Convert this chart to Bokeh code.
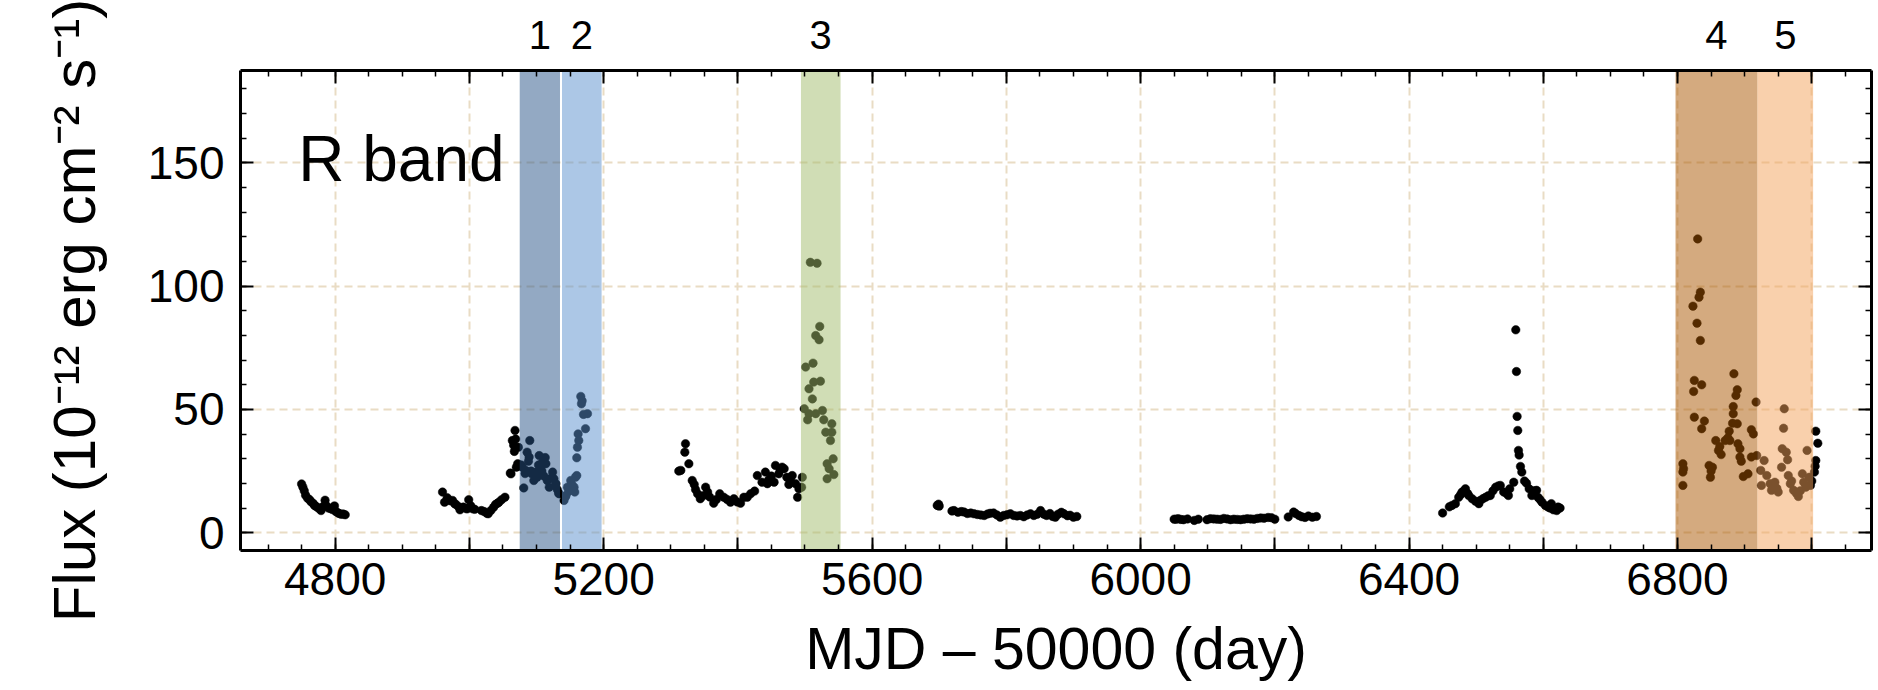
from bokeh.plotting import figure
from bokeh.models import FixedTicker, LinearAxis, Label, Range1d, Title
from bokeh.embed import file_html
from bokeh.resources import INLINE

# ---------------- data (MJD - 50000, flux in 1e-12 erg cm^-2 s^-1) ----------------
mjd_s1 = [4750, 4752, 4754, 4756, 4759, 4762, 4764, 4767, 4769, 4771, 4774, 4777, 4779,
          4782, 4785, 4787, 4790, 4793, 4796, 4799, 4801, 4804, 4806, 4809, 4812, 4815]
flux_s1 = [19.8, 18.5, 17.0, 15.2, 14.0, 13.4, 12.6, 12.0, 11.2, 10.8, 10.2, 9.6, 9.0,
           10.6, 13.2, 11.0, 10.0, 9.8, 9.4, 10.9, 8.6, 8.1, 7.8, 7.5, 7.6, 7.3]

mjd_s2 = [4960, 4963, 4967, 4971, 4975, 4978, 4980, 4984, 4986, 4991, 4995, 4997, 4999,
          5002, 5005, 5008, 5018, 5022, 5026, 5028, 5032, 5036, 5039, 5042, 5044, 5048,
          5053, 5061, 5062, 5064, 5066, 5067, 5068, 5069, 5070, 5072, 5073,
          5077, 5079, 5081, 5083, 5084, 5086, 5088, 5089, 5090, 5092, 5093, 5096, 5098,
          5101, 5103, 5104, 5106, 5108, 5109, 5111, 5113, 5114, 5116, 5119, 5121, 5124,
          5126, 5128, 5129, 5131, 5133, 5134,
          5141, 5143, 5144, 5146, 5148, 5151, 5153, 5156, 5157, 5158, 5160, 5160, 5161,
          5162, 5163, 5166, 5167, 5168, 5170, 5173, 5176]
flux_s2 = [16.5, 12.4, 14.2, 13.0, 13.1, 11.8, 11.5, 10.5, 9.3, 10.4, 9.8, 9.7, 13.4,
           11.0, 9.7, 9.5, 9.0, 8.6, 7.9, 7.7, 9.0, 10.3, 11.5, 12.0, 12.4, 13.4,
           14.4, 24.2, 23.9, 37.4, 35.5, 33.0, 41.5, 38.0, 26.6, 28.0, 34.7,
           27.5, 26.6, 18.2, 24.0, 25.3, 32.7, 29.0, 30.7, 37.4, 25.0, 23.9, 21.2, 24.5,
           22.5, 27.5, 31.3, 26.0, 25.0, 28.6, 23.0, 30.5, 28.0, 21.2, 18.5, 22.0, 24.6,
           21.9, 19.0, 19.9, 17.5, 16.0, 15.8,
           13.1, 14.5, 15.1, 18.5, 16.8, 21.2, 19.5, 18.5, 16.5, 22.5, 23.2, 30.4, 34.7,
           40.1, 37.4, 55.3, 52.3, 53.5, 48.0, 42.2, 48.3]

mjd_s3 = [5312, 5315, 5321, 5322, 5327, 5332, 5335, 5337, 5340, 5344, 5348, 5352, 5355,
          5358, 5364, 5368, 5373, 5379, 5384, 5389, 5394, 5399, 5404, 5409, 5414, 5419,
          5425, 5429, 5436, 5441, 5444, 5446, 5450, 5454, 5456, 5461, 5463, 5466, 5469,
          5473, 5476, 5478, 5481, 5486, 5489, 5491,
          5495, 5496, 5499, 5501, 5504, 5506, 5506, 5508, 5511, 5512, 5513, 5516, 5516,
          5518, 5521, 5522, 5523, 5526, 5528, 5531, 5533, 5533, 5536, 5538, 5540, 5540,
          5542, 5543]
flux_s3 = [25.0, 25.3, 32.7, 36.1, 28.0, 21.2, 19.6, 17.5, 15.8, 13.8, 15.0, 18.5, 16.5,
           14.5, 12.0, 13.5, 15.8, 14.4, 13.5, 12.4, 13.8, 12.5, 12.0, 14.4, 14.4, 15.8,
           16.9, 23.2, 20.5, 24.6, 19.9, 21.5, 23.0, 20.5, 27.3, 23.9, 25.5, 26.6, 26.0,
           22.5, 19.6, 21.5, 23.2, 19.9, 14.4, 17.8,
           18.5, 22.5, 50.3, 67.2, 45.8, 58.4, 48.3, 109.7, 54.3, 68.8, 61.1, 80.0, 48.3,
           109.3, 78.3, 83.7, 61.5, 49.6, 45.8, 40.8, 28.0, 21.9, 26.0, 37.4, 44.2, 40.8,
           30.0, 23.6]

mjd_s4 = [5697, 5699, 5700, 5719, 5722, 5728, 5733, 5737, 5742, 5747, 5752, 5757, 5762,
          5767, 5772, 5776, 5781, 5786, 5791, 5796, 5801, 5806, 5811, 5816, 5821, 5826,
          5831, 5836, 5841, 5846, 5851, 5856, 5860, 5865, 5869, 5873, 5877, 5882, 5886,
          5891, 5895, 5900, 5905]
flux_s4 = [11.1, 11.6, 10.8, 8.8, 9.0, 8.3, 8.6, 8.4, 7.8, 8.0, 7.7, 7.4, 7.2,
           7.0, 7.6, 7.9, 8.0, 7.2, 6.3, 7.0, 7.3, 7.7, 7.0, 6.8, 7.0, 6.5,
           7.2, 7.7, 7.0, 7.5, 9.0, 7.5, 7.0, 7.8, 6.6, 6.3, 7.5, 8.3, 7.7,
           6.9, 7.1, 6.3, 6.6]

mjd_s5 = [6050, 6053, 6056, 6060, 6064, 6070, 6080, 6086, 6099, 6104, 6109, 6114, 6119,
          6124, 6129, 6134, 6139, 6144, 6149, 6154, 6159, 6164, 6169, 6174, 6179, 6184,
          6190, 6195, 6200, 6220, 6228, 6231, 6236, 6240, 6245, 6250, 6256, 6262]
flux_s5 = [5.5, 5.5, 5.7, 5.4, 5.3, 5.6, 5.0, 5.5, 5.3, 5.7, 5.6, 5.5, 5.4,
           5.8, 5.6, 5.3, 5.5, 5.4, 5.3, 5.5, 5.7, 5.6, 5.5, 5.8, 6.0, 5.9,
           6.2, 6.1, 5.5, 6.4, 8.4, 7.8, 7.0, 6.5, 6.2, 6.8, 6.3, 6.6]

mjd_s6 = [6450, 6460, 6464, 6469, 6474, 6477, 6479, 6482, 6484, 6487, 6489, 6494, 6499,
          6504, 6506, 6510, 6514, 6518, 6521, 6525, 6529, 6533, 6536, 6541, 6545, 6548,
          6550, 6556, 6559, 6560, 6561, 6562, 6563, 6564, 6566, 6568, 6572, 6575, 6579,
          6583, 6586, 6590, 6592, 6595, 6598, 6603, 6607, 6610, 6612, 6615, 6618, 6620,
          6622, 6625]
flux_s6 = [8.0, 10.5, 11.1, 11.8, 14.4, 15.5, 16.5, 17.0, 17.8, 16.0, 15.1, 13.8, 12.8,
           11.8, 13.1, 13.8, 14.4, 15.0, 15.1, 17.0, 18.5, 19.0, 19.2, 16.5, 16.0, 15.1,
           17.8, 20.5, 82.3, 65.4, 47.2, 41.5, 33.4, 31.5, 26.9, 24.6, 21.0, 20.1, 17.8,
           15.1, 17.0, 17.2, 14.4, 13.5, 12.4, 11.1, 10.4, 10.0, 11.8, 9.3, 9.8, 9.0,
           10.4, 10.0]

mjd_s7 = [6808, 6808, 6808, 6809, 6823, 6824, 6825, 6825, 6829, 6830, 6832, 6834, 6834,
          6836, 6836, 6840, 6847, 6849, 6850, 6852, 6857, 6861, 6863, 6865, 6871, 6875,
          6877, 6878, 6882, 6883, 6883, 6884, 6887, 6889, 6889, 6890, 6893, 6893, 6895,
          6898, 6905, 6910, 6913, 6910, 6917, 6918,
          6924, 6925, 6929, 6933, 6938, 6940, 6943, 6945, 6948, 6950, 6955, 6956, 6958,
          6959, 6962, 6964, 6965, 6968, 6970, 6973, 6977, 6980, 6983, 6986, 6988, 6991,
          6993, 6996, 6998, 7000,
          7004, 7005, 7006, 7006, 7009]
flux_s7 = [28.0, 24.6, 19.2, 26.0, 91.9, 57.3, 61.8, 46.9, 85.0, 119.2, 95.5, 97.6, 78.0,
           60.0, 42.2, 45.3, 27.3, 22.5, 25.0, 26.6, 37.4, 33.4, 35.0, 31.7, 37.4, 38.5,
           41.2, 37.4, 44.4, 48.3, 51.2, 64.5, 55.7, 58.0, 44.2, 36.1, 34.1, 30.7, 29.0,
           22.8, 23.9, 41.8, 40.1, 30.7, 53.0, 31.3,
           25.3, 19.2, 29.3, 23.2, 19.9, 17.2, 18.5, 20.5, 18.0, 16.5, 26.6, 34.1, 42.4,
           50.3, 32.7, 29.6, 23.2, 19.9, 21.0, 17.2, 16.0, 14.7, 17.0, 23.9, 20.5, 18.5,
           33.4, 22.5, 19.2, 21.0,
           24.6, 27.0, 29.3, 41.2, 36.3]

# highlighted intervals
region_start = [5075, 5138, 5494, 6797, 6919]
region_end = [5135, 5197, 5553, 6919, 7002]
region_labels = ["1", "2", "3", "4", "5"]
region_colors = ["#285488", "#5a90ce", "#a2bc6c", "#aa5500", "#f4a25a"]

x_major = list(range(4600, 7201, 200))
x_minor = list(range(4600, 7201, 50))
x_labelled = [4800, 5200, 5600, 6000, 6400, 6800]
y_major = [0, 50, 100, 150]
y_minor = list(range(-10, 191, 10))

mjd = mjd_s1 + mjd_s2 + mjd_s3 + mjd_s4 + mjd_s5 + mjd_s6 + mjd_s7
flux = flux_s1 + flux_s2 + flux_s3 + flux_s4 + flux_s5 + flux_s6 + flux_s7

FONT = "Liberation Sans"

x0, x1 = 4659, 7089
y0, y1 = -7.2, 187.5

p = figure(width=1876, height=688, x_range=Range1d(x0, x1), y_range=Range1d(y0, y1),
           output_backend="svg", toolbar_location=None,
           min_border_left=240, min_border_right=5, min_border_top=70, min_border_bottom=138)
p.outline_line_color = None
p.background_fill_color = "white"

xt = FixedTicker(ticks=x_major, minor_ticks=x_minor)
yt = FixedTicker(ticks=y_major, minor_ticks=y_minor)

def style_axis(ax):
    ax.axis_line_width = 3
    ax.axis_line_color = "black"
    ax.major_tick_in = 13
    ax.major_tick_out = 0
    ax.minor_tick_in = 6
    ax.minor_tick_out = 0
    ax.major_tick_line_width = 2
    ax.minor_tick_line_width = 1.5
    ax.major_tick_line_color = "black"
    ax.minor_tick_line_color = "black"
    ax.major_label_text_font = FONT
    ax.major_label_text_color = "black"
    ax.axis_label_text_font = FONT
    ax.axis_label_text_color = "black"
    ax.axis_label_text_font_style = "normal"

xa = p.xaxis[0]
xa.ticker = xt
style_axis(xa)
xa.major_label_overrides = {t: (str(t) if t in x_labelled else "") for t in x_major}
xa.major_label_text_font_size = "46px"
xa.major_label_standoff = 12
xa.axis_label = "MJD \u2013 50000 (day)"
xa.axis_label_text_font_size = "59px"
xa.axis_label_standoff = 18

ya = p.yaxis[0]
ya.ticker = yt
style_axis(ya)
ya.major_label_text_font_size = "46px"
ya.major_label_standoff = 16

# y-axis title, placed as a left-side title so it can sit slightly below centre
p.add_layout(Title(text="Flux (10\u207b\u00b9\u00b2 erg cm\u207b\u00b2 s\u207b\u00b9)",
                   align="center", offset=-35, standoff=74, text_font=FONT,
                   text_font_size="60px", text_font_style="normal",
                   text_color="black"), "left")

top = LinearAxis(ticker=xt, major_label_overrides={t: "" for t in x_major},
                 major_label_standoff=0)
style_axis(top)
p.add_layout(top, "above")

# interval numbers shown above the frame, centred on each interval
centers = [(s + e) / 2 for s, e in zip(region_start, region_end)]
lab_axis = LinearAxis(ticker=FixedTicker(ticks=centers, minor_ticks=[]),
                      major_label_overrides={c: l for c, l in zip(centers, region_labels)},
                      axis_line_color=None, major_tick_line_color=None,
                      minor_tick_line_color=None, major_tick_in=0, major_tick_out=0,
                      major_label_standoff=22, major_label_text_font=FONT,
                      major_label_text_font_size="40px", major_label_text_color="black")
p.add_layout(lab_axis, "above")

right = LinearAxis(ticker=yt, major_label_overrides={t: "" for t in y_major},
                   major_label_standoff=0)
style_axis(right)
p.add_layout(right, "right")

p.xgrid.ticker = xt
p.ygrid.ticker = yt
for g in (p.xgrid[0], p.ygrid[0]):
    g.grid_line_color = "#e9dcc4"
    g.grid_line_width = 2
    g.grid_line_dash = "8 5"

p.scatter(mjd, flux, size=8.5, fill_color="black", line_color="black", line_width=0.5)

p.quad(left=region_start, right=region_end, bottom=y0 - 10, top=y1 + 10,
       fill_color=region_colors, fill_alpha=0.5, line_color=None)

p.add_layout(Label(x=4745, y=151.8, text="R band", text_align="left",
                   text_baseline="alphabetic", text_font=FONT,
                   text_font_size="64px", text_color="black"))

open("out.html", "w").write(file_html(p, INLINE))
